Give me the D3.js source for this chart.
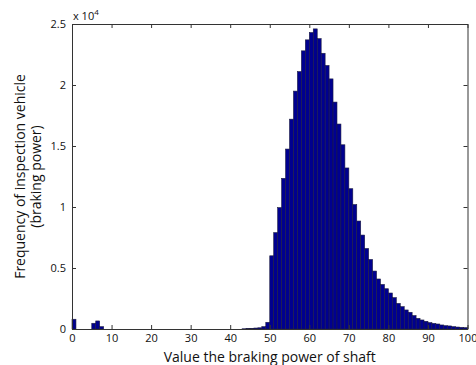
<!DOCTYPE html>
<html><head><meta charset="utf-8">
<script src="https://cdn.jsdelivr.net/npm/d3@7"></script>
<style>body{margin:0;background:#fff}svg{display:block}text{font-family:"Open Sans","Noto Sans",sans-serif;fill:#111}</style>
</head><body>
<svg id="c" width="476" height="365"></svg>
<script>
// bin left edges 0..99 (bin width 1), counts
const binStarts = d3.range(0, 100);
const counts = [
  800, 0, 0, 0, 0, 470, 660, 190, 0, 0,
  0, 0, 0, 0, 0, 0, 0, 0, 0, 0,
  0, 0, 0, 0, 0, 0, 0, 0, 0, 0,
  0, 0, 0, 0, 0, 0, 0, 0, 0, 0,
  0, 0, 0, 20, 40, 50, 80, 100, 190, 550,
  6000, 7900, 9950, 12350, 14750, 17200, 19500, 21100, 22800, 23700,
  24300, 24600, 23800, 22600, 21600, 20500, 18600, 16800, 15100, 13200,
  11500, 10200, 8850, 7700, 6600, 5700, 4750, 4100, 3650, 3300,
  2950, 2570, 2100, 1830, 1560, 1370, 1100, 870, 740, 630,
  520, 460, 410, 330, 270, 250, 190, 160, 140, 110
];
const xTicks = [0,10,20,30,40,50,60,70,80,90,100];
const yTicks = [0,5000,10000,15000,20000,25000];
const yTickLabels = ["0","0.5","1","1.5","2","2.5"];
const xLabel = "Value the braking power of shaft";
const yLabelLines = ["Frequency of inspection vehicle","(braking power)"];

const svg = d3.select("#c");
const L = 72, R = 467.5, T = 24, B = 329;
const x = d3.scaleLinear().domain([0,100]).range([L,R]);
const y = d3.scaleLinear().domain([0,25000]).range([B,T]);

// bars
svg.append("g").selectAll("rect").data(binStarts).join("rect")
  .attr("x", d => x(d)).attr("width", d => x(d+1)-x(d))
  .attr("y", (d,i) => y(counts[i])).attr("height", (d,i) => B - y(counts[i]))
  .attr("fill", "#00008f").attr("stroke", "#1c1c40").attr("stroke-width", 0.6)
  .attr("visibility", (d,i) => counts[i] > 0 ? "visible" : "hidden");

// axes (ticks inside, on all sides)
const tl = 4;
const axB = svg.append("g").attr("transform",`translate(0,${B})`)
  .call(d3.axisBottom(x).tickValues(xTicks).tickSizeInner(-tl).tickSizeOuter(0).tickPadding(5));
const axT = svg.append("g").attr("transform",`translate(0,${T})`)
  .call(d3.axisTop(x).tickValues(xTicks).tickSizeInner(-tl).tickSizeOuter(0).tickFormat(""));
const axL = svg.append("g").attr("transform",`translate(${L},0)`)
  .call(d3.axisLeft(y).tickValues(yTicks).tickSizeInner(-tl).tickSizeOuter(0).tickPadding(6)
    .tickFormat((d,i) => yTickLabels[i]));
const axR = svg.append("g").attr("transform",`translate(${R},0)`)
  .call(d3.axisRight(y).tickValues(yTicks).tickSizeInner(-tl).tickSizeOuter(0).tickFormat(""));
[axB,axT,axL,axR].forEach(g => {
  g.select(".domain").attr("stroke","#333");
  g.selectAll(".tick line").attr("stroke","#333");
  g.selectAll("text").attr("font-size", 11).attr("fill","#111")
    .style("font-family", '"Open Sans","Noto Sans",sans-serif');
});

// exponent label
const ex = svg.append("text").attr("x", L+1).attr("y", 20).attr("font-size", 11);
ex.append("tspan").text("x 10");
ex.append("tspan").attr("dy", -5).attr("font-size", 8).text("4");

// axis labels
svg.append("text").attr("x", (L+R)/2).attr("y", 362).attr("text-anchor","middle")
  .attr("font-size", 14).text(xLabel);
const yl = svg.append("text").attr("transform", `translate(25,${(T+B)/2}) rotate(-90)`)
  .attr("text-anchor","middle").attr("font-size", 14);
yLabelLines.forEach((s,i) => yl.append("tspan").attr("x",0).attr("dy", i===0?0:16).text(s));
</script>
</body></html>
